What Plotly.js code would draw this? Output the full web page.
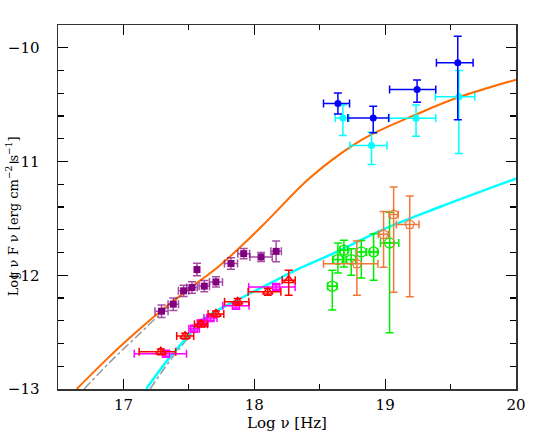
<!DOCTYPE html>
<html>
<head>
<meta charset="utf-8">
<script src="https://cdn.plot.ly/plotly-3.0.1.min.js"></script>
<style>
  html, body { margin: 0; padding: 0; background: #fff; }
  #sed { width: 545px; height: 436px; }
</style>
</head>
<body>
<div id="sed"></div>
<script>
// model curves (log nu, log nuFnu)
var orangeX = [16.643, 16.865, 17.0, 17.29, 17.5, 17.73, 17.95, 18.1, 18.4, 18.59, 18.75, 18.9, 19.25, 19.55, 20.0];
var orangeY = [-13.0, -12.746, -12.6, -12.31, -12.12, -11.92, -11.69, -11.52, -11.17, -10.99, -10.86, -10.76, -10.58, -10.44, -10.28];
var cyanX = [17.174, 17.337, 17.467, 17.58, 17.7, 17.9, 18.116, 18.345, 18.6, 19.0, 19.417, 20.0];
var cyanY = [-13.0, -12.746, -12.57, -12.41, -12.32, -12.2, -12.073, -11.94, -11.81, -11.59, -11.40, -11.15];
var grey1X = [16.70, 16.9, 17.1, 17.3, 17.45];
var grey1Y = [-13.0, -12.76, -12.54, -12.32, -12.17];
var grey2X = [17.204, 17.35, 17.47, 17.6, 17.7];
var grey2Y = [-13.0, -12.76, -12.585, -12.41, -12.32];

// purple filled squares
var purpleX = [17.291, 17.381, 17.46, 17.524, 17.562, 17.618, 17.707, 17.822, 17.919, 18.052, 18.167];
var purpleY = [-12.316, -12.254, -12.137, -12.108, -11.95, -12.096, -12.059, -11.897, -11.81, -11.839, -11.79];
var purpleXerr = [0.05, 0.04, 0.04, 0.04, 0.0, 0.04, 0.05, 0.05, 0.045, 0.085, 0.04];
var purpleYerr = [0.055, 0.055, 0.05, 0.05, 0.055, 0.05, 0.045, 0.05, 0.045, 0.04, 0.092];

// red open triangles
var redX = [17.286, 17.472, 17.593, 17.707, 17.873, 18.103, 18.263];
var redY = [-12.673, -12.535, -12.43, -12.34, -12.234, -12.146, -12.044];
var redXminus = [0.166, 0.065, 0.05, 0.06, 0.1, 0.15, 0.05];
var redXplus = [0.114, 0.065, 0.05, 0.06, 0.085, 0.1, 0.05];
var redYplus = [0.025, 0.025, 0.025, 0.025, 0.03, 0.03, 0.088];
var redYminus = [0.025, 0.025, 0.025, 0.025, 0.03, 0.03, 0.131];

// magenta open squares
var magX = [17.325, 17.54, 17.605, 17.665, 17.86, 18.167];
var magY = [-12.69, -12.47, -12.42, -12.375, -12.268, -12.103];
var magXminus = [0.242, 0.04, 0.04, 0.05, 0.1, 0.21];
var magXplus = [0.157, 0.04, 0.04, 0.05, 0.1, 0.145];
var magYerr = [0.02, 0.02, 0.02, 0.02, 0.02, 0.02];

// green open circles with cross
var greenX = [18.596, 18.639, 18.685, 18.741, 18.818, 18.912, 19.034];
var greenY = [-12.096, -11.862, -11.78, -11.862, -11.795, -11.795, -11.716];
var greenXerr = [0.036, 0.04, 0.03, 0.04, 0.04, 0.03, 0.07];
var greenYplus = [0.14, 0.145, 0.087, 0.096, 0.1, 0.16, 0.27];
var greenYminus = [0.21, 0.118, 0.147, 0.138, 0.23, 0.25, 0.79];

// orange open pentagons
var pentX = [18.784, 18.988, 19.065, 19.188];
var pentY = [-11.898, -11.64, -11.465, -11.553];
var pentXminus = [0.255, 0.04, 0.035, 0.102];
var pentXplus = [0.161, 0.04, 0.035, 0.071];
var pentYplus = [0.2, 0.2, 0.24, 0.25];
var pentYminus = [0.277, 0.29, 0.685, 0.637];

// blue filled circles
var blueX = [18.639, 18.909, 19.244, 19.555];
var blueY = [-10.49, -10.617, -10.368, -10.132];
var blueXminus = [0.11, 0.194, 0.21, 0.163];
var blueXplus = [0.089, 0.118, 0.143, 0.117];
var blueYplus = [0.093, 0.102, 0.084, 0.232];
var blueYminus = [0.092, 0.131, 0.112, 0.502];

// cyan filled circles
var cyanPtX = [18.677, 18.896, 19.236, 19.563];
var cyanPtY = [-10.617, -10.86, -10.62, -10.43];
var cyanPtXminus = [0.058, 0.166, 0.206, 0.179];
var cyanPtXplus = [0.046, 0.118, 0.151, 0.122];
var cyanPtYplus = [0.114, 0.117, 0.117, 0.23];
var cyanPtYminus = [0.155, 0.166, 0.158, 0.5];

function errs(plus, minus, color) {
  return {type: "data", symmetric: false, array: plus, arrayminus: minus,
          color: color, thickness: 1.5, width: 4};
}

var traces = [
  {x: grey1X, y: grey1Y, mode: "lines", line: {color: "#999", width: 1.5, dash: "dashdot", shape: "spline"}},
  {x: grey2X, y: grey2Y, mode: "lines", line: {color: "#999", width: 1.5, dash: "dashdot", shape: "spline"}},
  {x: orangeX, y: orangeY, mode: "lines", line: {color: "#ff6a00", width: 2, shape: "spline"}},
  {x: cyanX, y: cyanY, mode: "lines", line: {color: "#00ffff", width: 2.5, shape: "spline"}},
  {x: purpleX, y: purpleY, mode: "markers",
   marker: {symbol: "square", size: 7, color: "#800080"},
   error_x: errs(purpleXerr, purpleXerr, "rgba(128,0,128,0.7)"),
   error_y: errs(purpleYerr, purpleYerr, "rgba(128,0,128,0.7)")},
  {x: magX, y: magY, mode: "markers",
   marker: {symbol: "square-open", size: 7, color: "#ff00ff", line: {width: 1.5}},
   error_x: errs(magXplus, magXminus, "#ff00ff"),
   error_y: errs(magYerr, magYerr, "#ff00ff")},
  {x: redX, y: redY, mode: "markers",
   marker: {symbol: "triangle-up-open", size: 9, color: "#ff0000", line: {width: 1.5}},
   error_x: errs(redXplus, redXminus, "#ff0000"),
   error_y: errs(redYplus, redYminus, "#ff0000")},
  {x: greenX, y: greenY, mode: "markers",
   marker: {symbol: "circle-cross-open", size: 10, color: "#00ee00", line: {width: 1.2}},
   error_x: errs(greenXerr, greenXerr, "#00ee00"),
   error_y: errs(greenYplus, greenYminus, "#00ee00")},
  {x: pentX, y: pentY, mode: "markers",
   marker: {symbol: "pentagon-open", size: 10, color: "#f07838", line: {width: 1.2}},
   error_x: errs(pentXplus, pentXminus, "#f07838"),
   error_y: errs(pentYplus, pentYminus, "#f07838")},
  {x: cyanPtX, y: cyanPtY, mode: "markers",
   marker: {symbol: "circle", size: 7, color: "#00ffff"},
   error_x: errs(cyanPtXplus, cyanPtXminus, "#00ffff"),
   error_y: errs(cyanPtYplus, cyanPtYminus, "#00ffff")},
  {x: blueX, y: blueY, mode: "markers",
   marker: {symbol: "circle", size: 7, color: "#0000ff"},
   error_x: errs(blueXplus, blueXminus, "#0000ff"),
   error_y: errs(blueYplus, blueYminus, "#0000ff")}
];

var axisFont = {family: "DejaVu Serif, Liberation Serif, serif", size: 15, color: "#000"};
var yTitleFont = {family: "DejaVu Serif, Liberation Serif, serif", size: 13, color: "#000"};

var layout = {
  width: 545, height: 436,
  margin: {l: 58, r: 29, t: 25, b: 47},
  paper_bgcolor: "#fff", plot_bgcolor: "#fff",
  showlegend: false,
  font: axisFont,
  xaxis: {
    range: [16.5, 20], dtick: 1, tick0: 17,
    ticks: "inside", ticklen: 10, tickwidth: 1.2, tickcolor: "#000",
    minor: {dtick: 0.5, tick0: 16.5, ticks: "inside", ticklen: 5, tickcolor: "#000"},
    showline: true, linecolor: "#333", linewidth: 1.5, mirror: "ticks",
    showgrid: false, zeroline: false,
    tickfont: axisFont, ticklabelstandoff: 1,
    title: {text: "Log ν [Hz]", font: axisFont, standoff: 3}
  },
  yaxis: {
    range: [-13, -9.8], dtick: 1, tick0: -13,
    ticks: "inside", ticklen: 10, tickwidth: 1.2, tickcolor: "#000",
    minor: {dtick: 0.2, tick0: -13, ticks: "inside", ticklen: 6, tickcolor: "#000"},
    showline: true, linecolor: "#333", linewidth: 1.5, mirror: "ticks",
    showgrid: false, zeroline: false,
    tickfont: axisFont, ticklabelstandoff: 14
  },
  annotations: [{
    text: "Log ν F ν [erg cm<sup>−2</sup> s<sup>−1</sup>]",
    xref: "paper", yref: "paper", x: -0.1, y: 0.475,
    xanchor: "center", yanchor: "middle", textangle: -90,
    showarrow: false, font: yTitleFont
  }]
};

Plotly.newPlot("sed", traces, layout, {staticPlot: true});
</script>
</body>
</html>
